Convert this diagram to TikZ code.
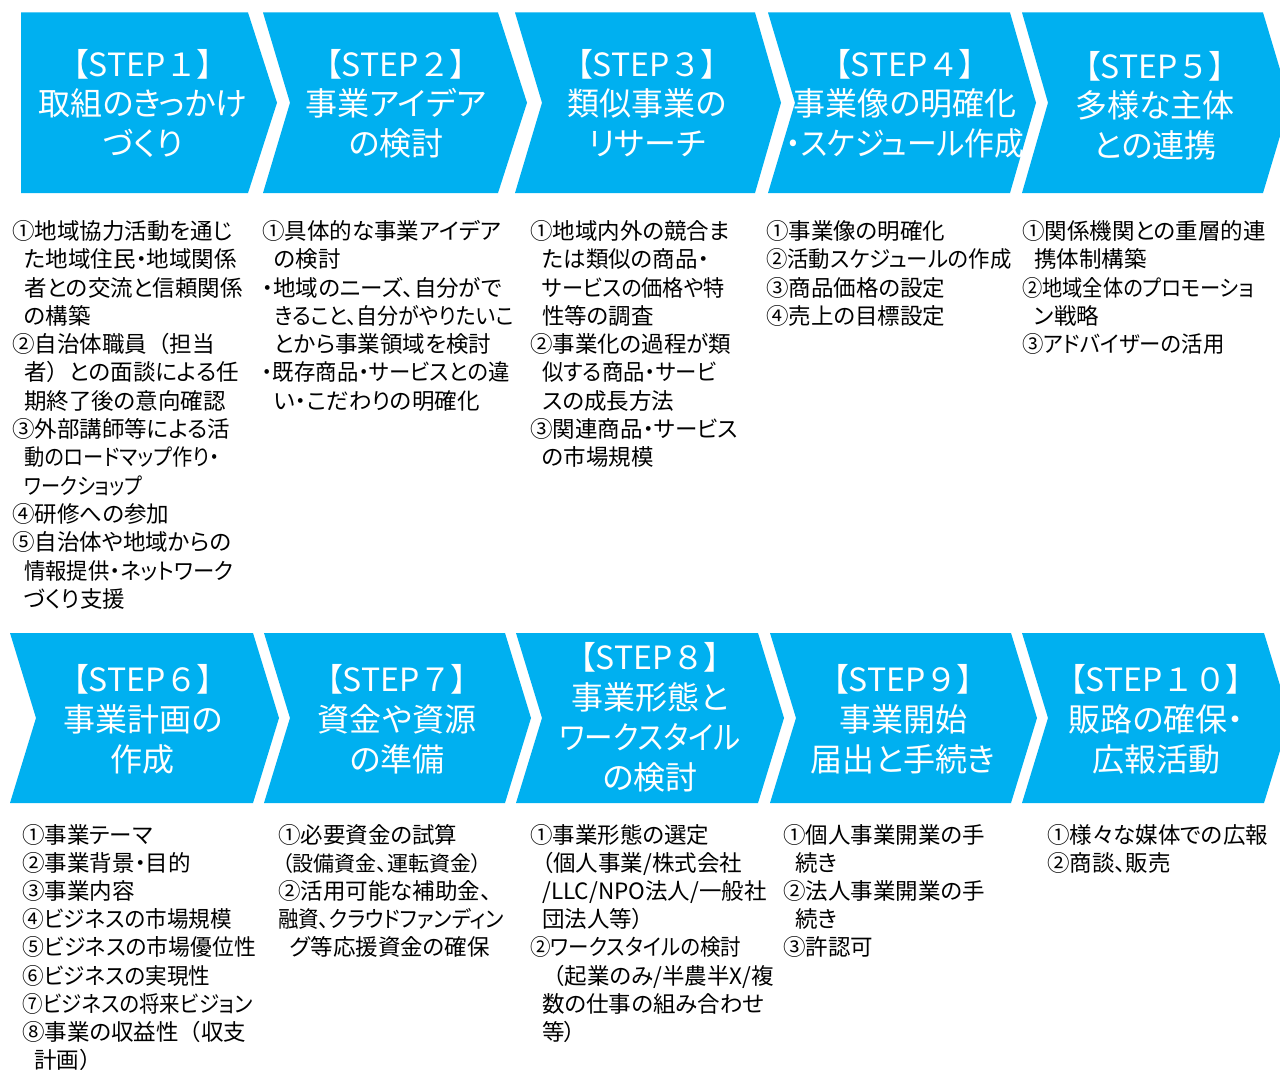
\documentclass[tikz,border=0pt]{standalone}
\usepackage{fontspec}
\usepackage{graphicx}
\setmainfont{Noto Sans CJK JP}[RawFeature=+palt]
\newfontfamily\jp{Noto Sans CJK JP}[RawFeature=+palt]
\newfontfamily\jpw{Noto Sans CJK JP}
\definecolor{chevblue}{HTML}{00B0F0}
\newcommand\stp[1]{【STEP{\jpw #1}】}
\newcommand\lp{{\jpw （}}
\newcommand\rp{{\jpw ）}}
\newcommand\ti{\hspace*{12pt}}
\newcommand\sq[2]{\scalebox{#1}[1]{#2}}
\tikzset{
  chev/.style={fill=chevblue},
  ttl/.style={anchor=base, text width=300pt, align=center, inner sep=0pt, text=white, font=\jp\fontsize{32}{39.5}\selectfont},
  ttlb/.style={ttl, font=\jp\fontsize{32}{40}\selectfont},
  body/.style={anchor=base west, text width=300pt, align=left, inner sep=0pt, text=black, font=\jp\fontsize{22.5}{28.3}\selectfont},
  bodyb/.style={body, font=\jp\fontsize{22.5}{28.1}\selectfont},
}
\begin{document}
\begin{tikzpicture}[x=1pt,y=-1pt]
\clip (0,0) rectangle (1280,1070);
\fill[white] (0,0) rectangle (1280,1070);
% top row chevrons
\def\T{12.5}\def\B{193}\def\M{102.75}
\fill[chev] (21,\T) -- (248,\T) -- (277,\M) -- (248,\B) -- (21,\B) -- cycle;
\fill[chev] (263,\T) -- (498,\T) -- (527,\M) -- (498,\B) -- (263,\B) -- (290,\M) -- cycle;
\fill[chev] (515,\T) -- (755,\T) -- (781,\M) -- (755,\B) -- (515,\B) -- (542,\M) -- cycle;
\fill[chev] (768,\T) -- (1010,\T) -- (1036,\M) -- (1010,\B) -- (768,\B) -- (795,\M) -- cycle;
\fill[chev] (1022,\T) -- (1263,\T) -- (1290,\M) -- (1263,\B) -- (1022,\B) -- (1048,\M) -- cycle;
% bottom row chevrons
\def\T{633}\def\B{803}\def\M{718}
\fill[chev] (10,\T) -- (253,\T) -- (279,\M) -- (253,\B) -- (10,\B) -- (36,\M) -- cycle;
\fill[chev] (264,\T) -- (505,\T) -- (531,\M) -- (505,\B) -- (264,\B) -- (290,\M) -- cycle;
\fill[chev] (516,\T) -- (758,\T) -- (784,\M) -- (758,\B) -- (516,\B) -- (542,\M) -- cycle;
\fill[chev] (770,\T) -- (1011,\T) -- (1037,\M) -- (1011,\B) -- (770,\B) -- (796,\M) -- cycle;
\fill[chev] (1022,\T) -- (1264,\T) -- (1290,\M) -- (1264,\B) -- (1022,\B) -- (1048,\M) -- cycle;

% titles top
\node[ttl] (t1) at (143,76.5) {\stp{１}\\取組のきっかけ\\づくり};
\node[ttl] (t2) at (396,76.5) {\stp{２}\\事業アイデア\\の検討};
\node[ttl] (t3) at (647,76.5) {\stp{３}\\類似事業の\\リサーチ};
\node[ttl] (t4) at (905,76.5) {\stp{４}\\事業像の明確化\\\sq{0.93}{・スケジュール作成}};
\node[ttl] (t5) at (1155,78.5) {\stp{５}\\多様な主体\\との連携};
% titles bottom
\node[ttlb] (t6) at (143,691) {\stp{６}\\事業計画の\\作成};
\node[ttlb] (t7) at (397,691) {\stp{７}\\資金や資源\\の準備};
\node[ttlb] (t8) at (650,669) {\stp{８}\\事業形態と\\\sq{0.89}{ワークスタイル}\\の検討};
\node[ttlb] (t9) at (903,691) {\stp{９}\\事業開始\\届出と手続き};
\node[ttlb] (t10) at (1156,691) {\stp{１０}\\販路の確保・\\広報活動};

% body top
\node[body] (b1) at (12,239.5) {①地域協力活動を通じ\\\ti た地域住民・地域関係\\\ti 者との交流と信頼関係\\\ti の構築\\②自治体職員\lp 担当\\\ti 者\rp との面談による任\\\ti 期終了後の意向確認\\③外部講師等による活\\\ti \sq{0.9}{動のロードマップ作り・}\\\ti \sq{0.85}{ワークショップ}\\④研修への参加\\⑤自治体や地域からの\\\ti \sq{0.95}{情報提供・ネットワーク}\\\ti づくり支援};
\node[body] (b2) at (262,239.5) {①具体的な事業アイデア\\\ti の検討\\・地域のニーズ、自分がで\\\ti \sq{0.93}{きること、自分がやりたいこ}\\\ti とから事業領域を検討\\\sq{0.95}{・既存商品・サービスとの違}\\\ti い・こだわりの明確化};
\node[body] (b3) at (530,239.5) {①地域内外の競合ま\\\ti たは類似の商品・\\\ti \sq{0.94}{サービスの価格や特}\\\ti 性等の調査\\②事業化の過程が類\\\ti \sq{0.95}{似する商品・サービ}\\\ti スの成長方法\\③関連商品・サービス\\\ti の市場規模};
\node[body] (b4) at (766,239.5) {①事業像の明確化\\\sq{0.95}{②活動スケジュールの作成}\\③商品価格の設定\\④売上の目標設定};
\node[body] (b5) at (1022,239.5) {①関係機関との重層的連\\\ti 携体制構築\\\sq{0.9}{②地域全体のプロモーショ}\\\ti ン戦略\\\sq{0.95}{③アドバイザーの活用}};
% body bottom
\node[bodyb] (b6) at (22,843.5) {①事業テーマ\\②事業背景・目的\\③事業内容\\\sq{0.96}{④ビジネスの市場規模}\\\sq{0.97}{⑤ビジネスの市場優位性}\\\sq{0.96}{⑥ビジネスの実現性}\\\sq{0.91}{⑦ビジネスの将来ビジョン}\\⑧事業の収益性\lp 収支\\\ti 計画\rp};
\node[bodyb] (b7) at (278,843.5) {①必要資金の試算\\\hspace*{4pt}{\fontsize{21}{28.1}\selectfont （設備資金、運転資金）}\\②活用可能な補助金、\\\sq{0.91}{融資、クラウドファンディン}\\\ti グ等応援資金の確保};
\node[bodyb] (b8) at (530,843.5) {①事業形態の選定\\\ti （個人事業/株式会社\\\ti /LLC/NPO法人/一般社\\\ti 団法人等）\\\sq{0.91}{②ワークスタイルの検討}\\\ti \lp 起業のみ/半農半X/複\\\ti 数の仕事の組み合わせ\\\ti 等）};
\node[bodyb] (b9) at (783,843.5) {①個人事業開業の手\\\ti 続き\\②法人事業開業の手\\\ti 続き\\③許認可};
\node[bodyb] (b10) at (1047,843.5) {①様々な媒体での広報\\②商談、販売};
\end{tikzpicture}
\end{document}
